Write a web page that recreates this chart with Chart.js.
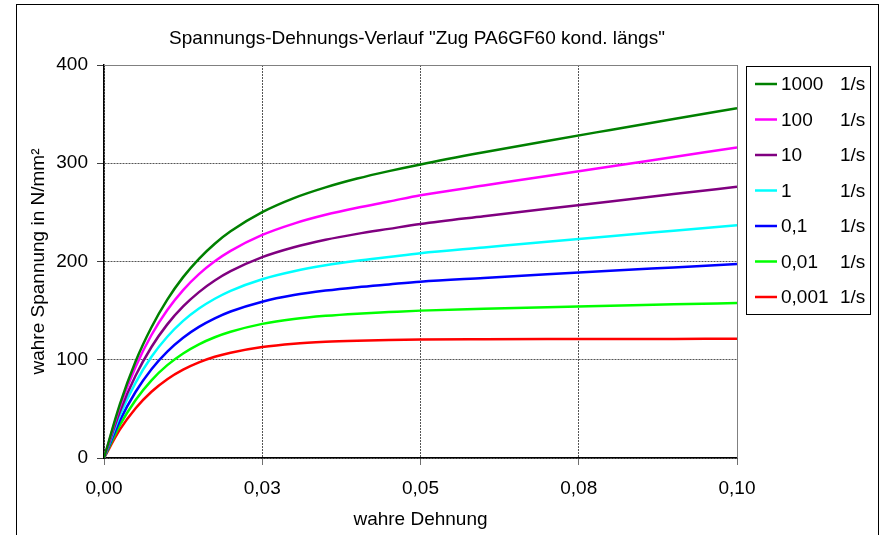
<!DOCTYPE html>
<html lang="de">
<head>
<meta charset="utf-8">
<title>Spannungs-Dehnungs-Verlauf</title>
<script src="https://cdn.jsdelivr.net/npm/chart.js@4.4.1/dist/chart.umd.min.js"></script>
<style>
  html, body { margin: 0; padding: 0; background: #fff; }
  #wrap { width: 880px; height: 535px; position: relative; }
</style>
</head>
<body>
<div id="wrap"><canvas id="diagramm"></canvas></div>
<script>
const titelText = 'Spannungs-Dehnungs-Verlauf "Zug PA6GF60 kond. längs"';
const xTitel = "wahre Dehnung";
const yTitel = "wahre Spannung in N/mm²";

// wahre Dehnung (x)
const dehnung = [0, 0.0025, 0.005, 0.0075, 0.01, 0.0125, 0.015, 0.0175, 0.02, 0.025,
  0.03, 0.035, 0.04, 0.045, 0.05, 0.06, 0.07, 0.08, 0.09, 0.1];

// wahre Spannung (N/mm²) je Dehnrate
const spannung1000 = [0, 54.5, 98.5, 133.1, 161.2, 184.1, 202.7, 218.1, 230.7, 250.2, 264.5, 275.4, 284.4, 292.0, 298.8, 311.1, 322.7, 333.9, 345.0, 356.0];
const spannung100 = [0, 52.1, 93.0, 125.2, 150.6, 170.9, 187.1, 200.2, 210.8, 227.0, 238.6, 247.5, 254.7, 261.0, 267.5, 277.3, 287.1, 296.8, 306.4, 316.0];
const spannung10 = [0, 47.0, 83.9, 113.0, 136.0, 154.2, 168.8, 180.6, 190.1, 204.4, 214.5, 222.1, 228.1, 233.2, 238.2, 246.1, 253.7, 261.1, 268.6, 276.0];
const spannung1 = [0, 43.3, 76.8, 103.0, 123.4, 139.5, 152.1, 162.1, 170.2, 182.0, 190.1, 196.1, 200.7, 204.6, 208.5, 214.3, 220.1, 225.8, 231.4, 237.0];
const spannung01 = [0, 38.0, 67.4, 90.4, 108.3, 122.4, 133.4, 142.1, 149.1, 159.1, 165.8, 170.4, 173.9, 176.7, 179.4, 183.2, 186.9, 190.5, 194.0, 197.5];
const spannung001 = [0, 33.4, 59.1, 79.1, 94.5, 106.4, 115.7, 122.9, 128.5, 136.5, 141.5, 144.7, 146.9, 148.5, 150.0, 151.8, 153.4, 154.9, 156.4, 157.8];
const spannung0001 = [0, 28.8, 50.7, 67.4, 80.2, 89.9, 97.3, 103.0, 107.2, 113.0, 116.4, 118.3, 119.4, 120.1, 120.5, 120.8, 121.0, 121.1, 121.2, 121.3];

const rateLabels = ["1000", "100", "10", "1", "0,1", "0,01", "0,001"];
const rateEinheit = "1/s";
const farben = ["#008000", "#FF00FF", "#800080", "#00FFFF", "#0000FF", "#00FF00", "#FF0000"];
const alleSpannungen = [spannung1000, spannung100, spannung10, spannung1, spannung01, spannung001, spannung0001];

const xTickWerte = [0, 0.025, 0.05, 0.075, 0.1];
const xTickLabels = ["0,00", "0,03", "0,05", "0,08", "0,10"];
const yTickWerte = [0, 100, 200, 300, 400];
const yTickLabels = ["0", "100", "200", "300", "400"];

const schrift = '"Liberation Sans", Arial, sans-serif';
Chart.defaults.font.family = schrift;
Chart.defaults.font.size = 19;
Chart.defaults.color = "#000";

const datensaetze = alleSpannungen.map((werte, i) => ({
  label: rateLabels[i] + " " + rateEinheit,
  data: werte.map((v, j) => ({ x: dehnung[j], y: v })),
  borderColor: farben[i],
  backgroundColor: farben[i],
  borderWidth: 2.5,
  pointRadius: 0,
  fill: false,
  cubicInterpolationMode: "monotone",
}));

// Rahmen, Titel und Legende werden selbst gezeichnet
const rahmenPlugin = {
  id: "rahmen",
  beforeDraw(chart) {
    const ctx = chart.ctx;
    ctx.save();
    ctx.fillStyle = "#fff";
    ctx.fillRect(0, 0, chart.width, chart.height);
    ctx.strokeStyle = "#000";
    ctx.lineWidth = 1;
    ctx.strokeRect(16.5, 4.5, 862, 600);
    ctx.font = "19px " + schrift;
    ctx.fillStyle = "#000";
    ctx.textAlign = "center";
    ctx.textBaseline = "alphabetic";
    ctx.fillText(titelText, 417, 44);
    ctx.restore();
  },
  beforeDatasetsDraw(chart) {
    const { ctx, chartArea: a } = chart;
    ctx.save();
    ctx.strokeStyle = "#808080";
    ctx.lineWidth = 1;
    ctx.beginPath();
    ctx.moveTo(a.left, a.top + 0.5);
    ctx.lineTo(a.right + 0.5, a.top + 0.5);
    ctx.lineTo(a.right + 0.5, a.bottom);
    ctx.stroke();
    ctx.restore();
  },
  afterDraw(chart) {
    const ctx = chart.ctx;
    ctx.save();
    ctx.strokeStyle = "#000";
    ctx.lineWidth = 1;
    ctx.strokeRect(746.5, 66.5, 124, 248);
    ctx.font = "19px " + schrift;
    ctx.fillStyle = "#000";
    ctx.textBaseline = "middle";
    chart.data.datasets.forEach((ds, i) => {
      const y = 84 + i * 35.5;
      ctx.strokeStyle = ds.borderColor;
      ctx.lineWidth = 2.5;
      ctx.beginPath();
      ctx.moveTo(755, y);
      ctx.lineTo(777, y);
      ctx.stroke();
      ctx.textAlign = "left";
      ctx.fillText(rateLabels[i], 781, y + 1);
      ctx.fillText(rateEinheit, 840, y + 1);
    });
    ctx.restore();
  },
};

new Chart(document.getElementById("diagramm").getContext("2d"), {
  type: "line",
  data: { datasets: datensaetze },
  plugins: [rahmenPlugin],
  options: {
    responsive: true,
    maintainAspectRatio: false,
    animation: false,
    layout: { padding: { left: 17, top: 65, right: 143, bottom: 0 } },
    plugins: {
      legend: { display: false },
      title: { display: false },
      tooltip: { enabled: false },
    },
    scales: {
      x: {
        type: "linear",
        min: 0,
        max: 0.1,
        afterBuildTicks: (s) => { s.ticks = xTickWerte.map((v) => ({ value: v })); },
        afterFit: (s) => { s.height = 77; },
        ticks: {
          padding: 12,
          maxRotation: 0,
          callback: (v, i) => xTickLabels[i],
        },
        grid: { color: "#555", lineWidth: 1, tickLength: 7, tickColor: "#404040", tickBorderDash: [1, 0] },
        border: { color: "#000", width: 1.5, dash: [2, 1] },
        title: { display: true, text: xTitel, padding: { top: 0, bottom: 4 } },
      },
      y: {
        min: 0,
        max: 400,
        afterBuildTicks: (s) => { s.ticks = yTickWerte.map((v) => ({ value: v })); },
        afterFit: (s) => { s.width = 87; },
        ticks: {
          padding: 9,
          callback: (v, i) => yTickLabels[i],
        },
        grid: { color: "#555", lineWidth: 1, tickLength: 7, tickColor: "#404040", tickBorderDash: [1, 0] },
        border: { color: "#000", width: 1.5, dash: [2, 1] },
        title: { display: true, text: yTitel, padding: { top: 10, bottom: 0 } },
      },
    },
  },
});
</script>
</body>
</html>
